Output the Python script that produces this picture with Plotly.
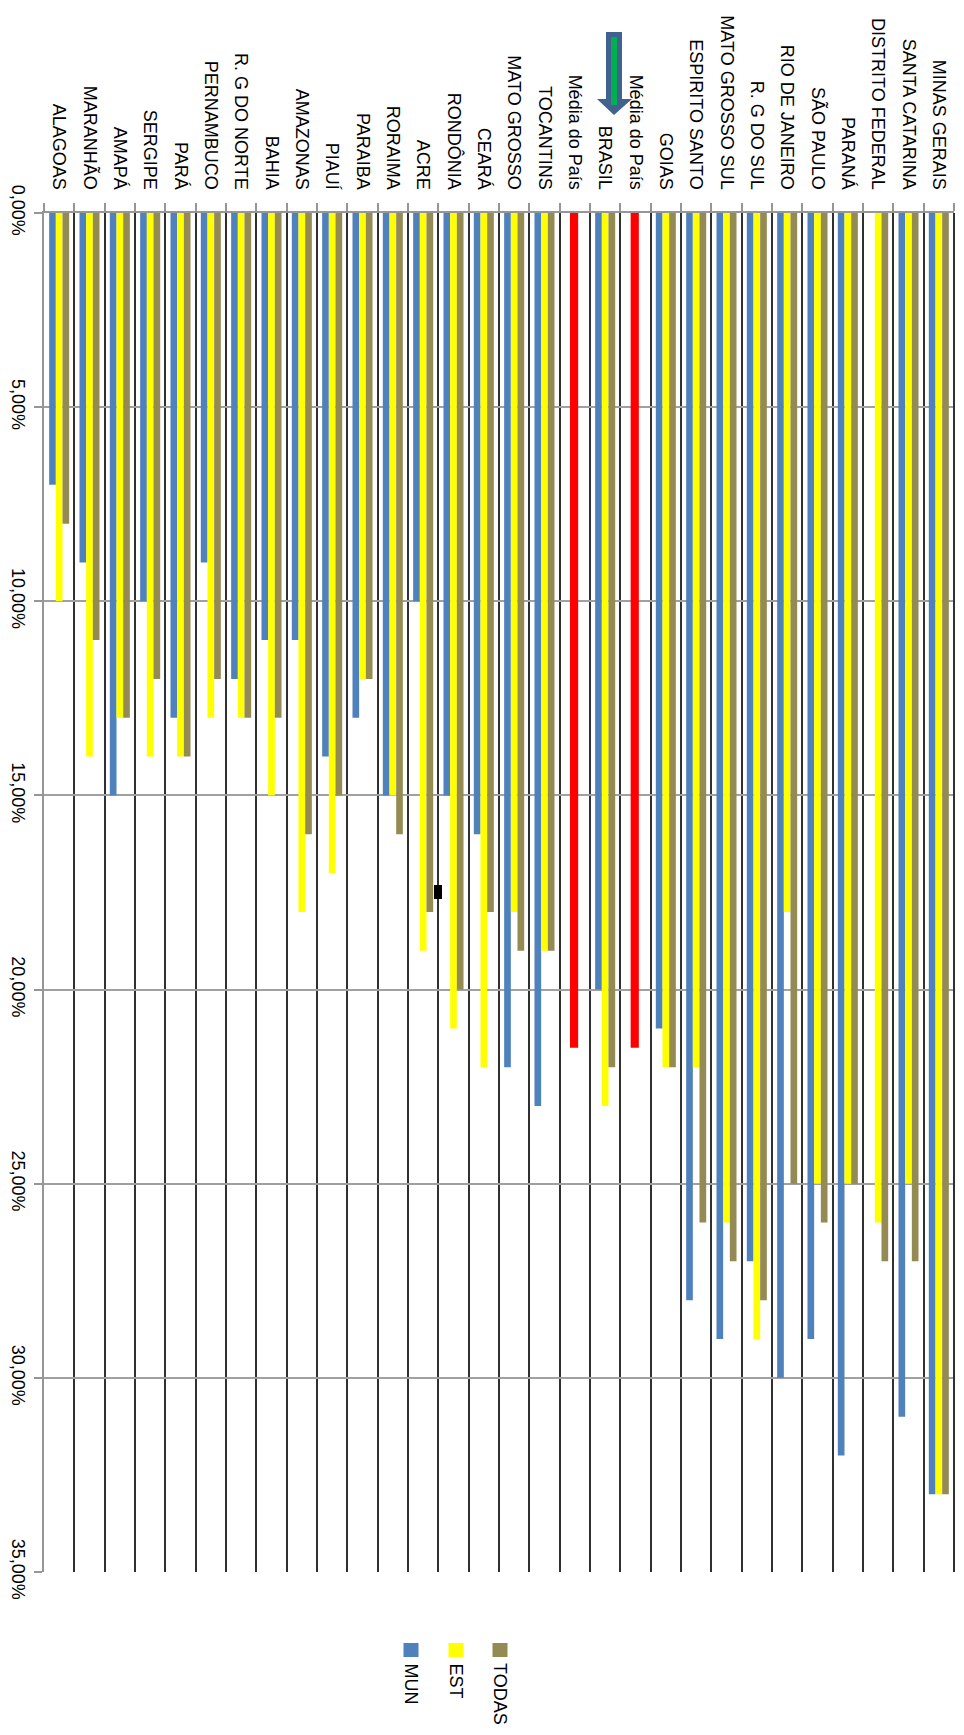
import plotly.graph_objects as go

# ---------------- data ----------------
categories = ["ALAGOAS", "MARANHÃO", "AMAPÁ", "SERGIPE", "PARÁ", "PERNAMBUCO",
              "R. G DO NORTE", "BAHIA", "AMAZONAS", "PIAUÍ", "PARAIBA", "RORAIMA",
              "ACRE", "RONDÔNIA", "CEARÁ", "MATO GROSSO", "TOCANTINS",
              "Média do País", "BRASIL", "Média do País", "GOIAS", "ESPIRITO SANTO",
              "MATO GROSSO SUL", "R. G DO SUL", "RIO DE JANEIRO", "SÃO PAULO",
              "PARANÁ", "DISTRITO FEDERAL", "SANTA CATARINA", "MINAS GERAIS"]

mun = [7, 9, 15, 10, 13, 9, 12, 11, 11, 14, 13, 15, 10, 15, 16, 22, 23,
       None, 20, None, 21, 28, 29, 27, 30, 29, 32, None, 31, 33]
est = [10, 14, 13, 14, 14, 13, 13, 15, 18, 17, 12, 15, 19, 21, 22, 18, 19,
       None, 23, None, 22, 22, 26, 29, 18, 25, 25, 26, 25, 33]
todas = [8, 11, 13, 12, 14, 12, 13, 13, 16, 15, 12, 16, 18, 20, 18, 19, 19,
         None, 22, None, 22, 26, 27, 28, 25, 26, 25, 27, 27, 33]
media = [None] * 17 + [21.5, None, 21.5] + [None] * 10

y_ticks = [0, 5, 10, 15, 20, 25, 30, 35]

series_names = ["MUN", "EST", "TODAS"]

# ---------------- layout constants ----------------
OFF = 8                      # default page body margin
W, H = 964 - OFF, 1735 - OFF
L, T = 44 - OFF, 213 - OFF
R = W - (954 - OFF)
B = H - (1572 - OFF)
PW, PH = W - L - R, H - T - B
FONT = "Liberation Sans, Arial, sans-serif"

def px(x):
    return (x - OFF - L) / PW

def py(y):
    return (H - B - (y - OFF)) / PH

def frac(v):
    return None if v is None else v / 100.0

xs = list(range(len(categories)))

fig = go.Figure()
colors = {"MUN": "#4f81bd", "EST": "#ffff00", "TODAS": "#948a54"}
offsets = {"MUN": -0.33, "EST": -0.11, "TODAS": 0.11}
for name, vals in zip(series_names, [mun, est, todas]):
    fig.add_trace(go.Bar(
        x=xs, y=[frac(v) for v in vals], name=name,
        marker=dict(color=colors[name], line=dict(width=0)),
        width=0.22, offset=offsets[name], showlegend=False))
fig.add_trace(go.Bar(
    x=xs, y=[frac(v) for v in media], name="Média do País",
    marker=dict(color="#ff0000", line=dict(width=0)),
    width=0.27, offset=-0.16, showlegend=False))

fig.update_layout(
    width=W, height=H,
    margin=dict(l=L, r=R, t=T, b=B, pad=0),
    paper_bgcolor="white", plot_bgcolor="white",
    barmode="overlay",
    separators=",.",
    font=dict(family=FONT, size=18, color="#000000"),
    showlegend=False,
)

n = len(categories)
fig.update_xaxes(
    type="linear", range=[-0.5, n - 0.5], side="top",
    tickmode="array", tickvals=xs, ticktext=categories,
    tickangle=90, ticks="", showgrid=False, zeroline=False,
    showline=True, linecolor="#969696", linewidth=2,
    tickfont=dict(family=FONT, size=18, color="#000000"),
    ticklabelstandoff=15,
    automargin=False,
    minor=dict(tickmode="array", tickvals=[i - 0.5 for i in range(n + 1)],
               ticks="outside", ticklen=8, tickcolor="#969696", tickwidth=2,
               showgrid=True, gridcolor="#303030", gridwidth=2),
)
fig.update_yaxes(
    range=[0.35, 0], tickmode="array", tickvals=[v / 100 for v in y_ticks],
    tickformat=".2%", tickangle=90,
    showgrid=True, gridcolor="#a0a0a0", gridwidth=2, zeroline=False,
    showline=True, linecolor="#969696", linewidth=2,
    ticks="outside", ticklen=8, tickcolor="#969696", tickwidth=2,
    tickfont=dict(family=FONT, size=18, color="#000000"),
    automargin=False,
)

# right border line (last category boundary)
fig.add_shape(type="line", xref="paper", yref="paper", x0=1, x1=1, y0=0, y1=1,
              line=dict(color="#303030", width=2))

# arrow decoration above BRASIL
arrow = [(606, 32), (622, 32), (622, 99), (632, 99), (614, 115), (597, 99), (606, 99)]
path = "M " + " L ".join(f"{px(a):.5f},{py(b):.5f}" for a, b in arrow) + " Z"
fig.add_shape(type="path", xref="paper", yref="paper", path=path,
              fillcolor="#41618f", line=dict(width=0))
fig.add_shape(type="rect", xref="paper", yref="paper",
              x0=px(611), x1=px(617), y0=py(37), y1=py(105),
              fillcolor="#00b050", line=dict(width=0))

# small black mark
fig.add_shape(type="rect", xref="paper", yref="paper",
              x0=px(434), x1=px(442), y0=py(885), y1=py(899),
              fillcolor="#000000", line=dict(width=0))

# legend (rotated)
leg_x = {"MUN": 411, "EST": 456, "TODAS": 500}
for name in series_names:
    cx = leg_x[name]
    fig.add_shape(type="rect", xref="paper", yref="paper",
                  x0=px(cx - 7.5), x1=px(cx + 7.5), y0=py(1643), y1=py(1657),
                  fillcolor=colors[name], line=dict(width=0))
    fig.add_annotation(xref="paper", yref="paper", x=px(cx), y=py(1661),
                       text=name, textangle=90, showarrow=False,
                       xanchor="center", yanchor="top",
                       font=dict(family=FONT, size=18, color="#000000"))

fig.write_html("out.html")
